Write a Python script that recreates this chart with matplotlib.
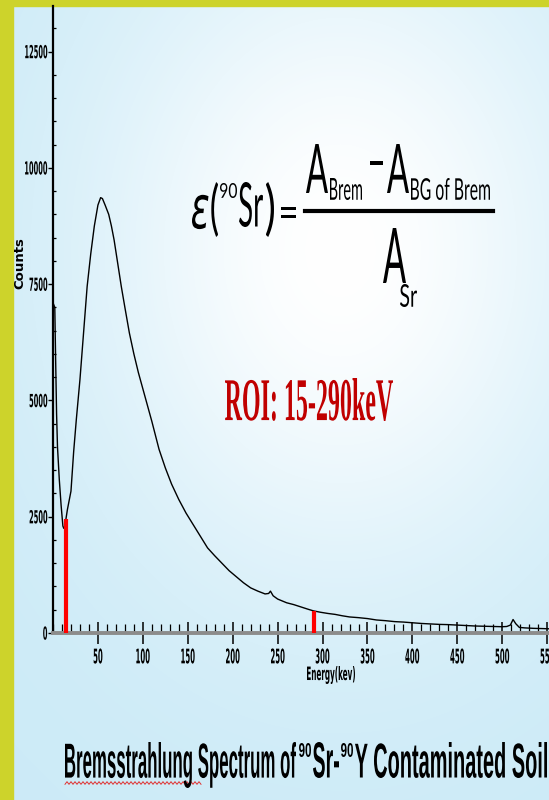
import numpy as np
import matplotlib
matplotlib.use("Agg")
import matplotlib.pyplot as plt
from matplotlib.font_manager import FontProperties
from matplotlib.textpath import TextPath
from matplotlib.transforms import Affine2D
from matplotlib.patheffects import AbstractPathEffect
from matplotlib.patches import Rectangle
from matplotlib.lines import Line2D
from matplotlib.ticker import MultipleLocator

W, H, DPI = 549, 800, 100

# spectrum (keV, counts)
energy = [0, 2, 3, 4, 5, 7, 9, 11, 12, 13, 14, 16, 18, 20, 23, 26, 30, 34, 38, 42,
          46, 50, 53, 55, 58, 62, 65, 68, 72, 76, 80, 85, 90, 95, 100, 105, 110, 118,
          125, 132, 140, 148, 156, 164, 172, 180, 188, 196, 204, 212, 220, 228, 236,
          240, 242, 245, 250, 260, 268, 276, 284, 290, 298, 306, 314, 322, 330, 340,
          350, 360, 370, 380, 390, 400, 410, 420, 430, 440, 450, 460, 470, 480, 490,
          500, 505, 509, 512, 515, 519, 525, 535, 545, 552]
counts = [7100, 7000, 5800, 4700, 4000, 3300, 2750, 2300, 2250, 2280, 2400, 2650, 2850,
          3050, 3900, 4600, 5450, 6450, 7450, 8150, 8750, 9200, 9360, 9340, 9200, 9000,
          8750, 8450, 7950, 7450, 7000, 6450, 6000, 5600, 5250, 4900, 4550, 3950, 3550,
          3200, 2870, 2580, 2330, 2080, 1830, 1660, 1500, 1340, 1210, 1080, 970, 900,
          840, 850, 900, 800, 730, 650, 610, 560, 510, 475, 445, 420, 400, 370, 345,
          330, 310, 280, 265, 245, 235, 220, 205, 195, 185, 180, 170, 160, 150, 145,
          140, 135, 140, 170, 290, 200, 120, 110, 100, 95, 90]

roi_energy = [15, 290]
roi_height = [2450, 475]

x_ticks = [50, 100, 150, 200, 250, 300, 350, 400, 450, 500, 550]
y_ticks = [0, 2500, 5000, 7500, 10000, 12500]


class Stretch(AbstractPathEffect):
    # draws the glyphs taller than their nominal size, like the squashed screenshot
    def __init__(self, sy, ya="base"):
        super().__init__()
        self.sy = sy
        self.ya = ya

    def draw_path(self, renderer, gc, tpath, affine, rgbFace=None):
        e = tpath.get_extents()
        py = {"base": 0.0, "top": e.y1, "center": (e.y0 + e.y1) / 2}[self.ya]
        t = Affine2D().translate(0, -py).scale(1, self.sy).translate(0, py) + affine
        renderer.draw_path(gc, tpath, t, rgbFace)


fig = plt.figure(figsize=(W / DPI, H / DPI), dpi=DPI)


def fit_text(s, box, color="black", **font):
    # put text so its ink fills box = (x0, x1, top, bottom) in image pixels
    x0, x1, top, bot = box
    prop = FontProperties(**font)
    e = TextPath((0, 0), s, size=100, prop=prop).get_extents()
    k = (x1 - x0) / e.width
    sy = (bot - top) / (e.height * k)
    base = top + e.y1 * k * sy
    ox = x0 - e.x0 * k
    prop.set_size(100 * k * 72 / DPI)
    t = fig.text(ox / W, 1 - base / H, s, fontproperties=prop, color=color,
                 ha="left", va="baseline")
    t.set_path_effects([Stretch(sy)])
    return t


# background of the slide
bg = fig.add_axes([0, 0, 1, 1], zorder=-10)
yy, xx = np.mgrid[0:H, 0:W]
glow = np.exp(-(((xx - 340) / 250.0) ** 2 + ((yy - 250) / 330.0) ** 2))
white = np.array([1.0, 1.0, 1.0])
blue = np.array([0.80, 0.92, 0.97])
bg.imshow(blue + (white - blue) * glow[..., None], extent=[0, W, H, 0], aspect="auto")
yellow = "#cdd32b"
bg.add_patch(Rectangle((0, 0), 13, H, color=yellow))
bg.add_patch(Rectangle((0, 0), W, 6, color=yellow))
sq_x = np.arange(65, 202, 2)
bg.plot(sq_x, 783 + 1.3 * (-1) ** np.arange(len(sq_x)), color="#e03030", lw=0.7)
bg.set_xlim(0, W)
bg.set_ylim(H, 0)
bg.axis("off")

# spectrum axes
ax = fig.add_axes([53 / W, (H - 633) / H, (W - 53) / W, (633 - 6) / H])
ax.patch.set_alpha(0)
ax.plot(energy, counts, color="black", lw=1.0)
ax.vlines(roi_energy, 0, roi_height, color="#ff0000", lw=3.0, zorder=3)
ax.set_xlim(0, 552)
ax.set_ylim(0, 13480)

ax.spines["top"].set_visible(False)
ax.spines["right"].set_visible(False)
ax.spines["left"].set_linewidth(1.6)
ax.spines["bottom"].set_color("#8c8c8c")
ax.spines["bottom"].set_linewidth(2.8)

ax.set_xticks(x_ticks, labels=[str(v) for v in x_ticks])
ax.set_yticks(y_ticks, labels=[str(v) for v in y_ticks])
ax.xaxis.set_minor_locator(MultipleLocator(10))
ax.yaxis.set_minor_locator(MultipleLocator(500))
ax.tick_params(axis="x", which="major", direction="inout", length=16, width=1.1,
               pad=3.2, labelsize=5.0)
ax.tick_params(axis="x", which="minor", direction="in", length=6.5, width=0.9)
ax.tick_params(axis="y", which="major", direction="out", length=3.6, width=1.0,
               pad=0.4, labelsize=4.8)
ax.tick_params(axis="y", which="minor", direction="in", length=2.5, width=0.9)

fig.text(20 / W, 1 - 263 / H, "Counts", rotation=90, ha="center", va="center",
         fontsize=9.5, fontweight="bold", family="DejaVu Sans")
fit_text("Energy(kev)", (307, 355, 666, 684), family="DejaVu Sans", weight="bold")

# efficiency formula
lato = dict(family=["Lato", "DejaVu Sans"])
eq_parts = [
    (r"$\varepsilon$(", (192, 218, 182, 237), lato),
    ("90", (220, 237, 183, 198), lato),
    ("Sr", (239, 263, 182, 227), lato),
    (")", (266, 274, 182, 237), lato),
    ("=", (281, 296, 207, 218), lato),
    ("A", (306, 328, 144, 193), lato),
    ("Brem", (330, 362, 178, 200), lato),
    ("−", (370, 383, 161, 165), lato),
    ("A", (387, 409, 144, 193), lato),
    ("BG of Brem", (411, 490, 178, 200), lato),
    ("A", (383, 406, 228, 283), lato),
    ("Sr", (400, 417, 284, 307), lato),
]
for txt, box, font in eq_parts:
    fit_text(txt, box, **font)
fig.add_artist(Line2D([305 / W, 493 / W], [1 - 210.5 / H] * 2, lw=3.0,
                      color="black", transform=fig.transFigure))

fit_text("ROI: 15-290keV", (225, 393, 378, 421), color="#c00000",
         family="Liberation Serif", weight="bold")

# slide title, superscripts set smaller as in the slide
arial_b = dict(family="Liberation Sans", weight="bold")
title_parts = [
    ("Bremsstrahlung Spectrum of", (65, 296, 742, 788)),
    ("90", (299, 311, 743, 757)),
    ("Sr-", (313, 339, 742, 778)),
    ("90", (341, 353, 743, 757)),
    ("Y Contaminated Soil", (355, 547, 742, 778)),
]
for txt, box in title_parts:
    fit_text(txt, box, **arial_b)

fig.canvas.draw()
for lbl in ax.get_xticklabels():
    lbl.set_fontweight("bold")
    lbl.set_path_effects([Stretch(2.9, ya="top")])
for lbl in ax.get_yticklabels():
    lbl.set_fontweight("bold")
    lbl.set_path_effects([Stretch(2.7, ya="center")])

fig.savefig("out.png", dpi=DPI)
